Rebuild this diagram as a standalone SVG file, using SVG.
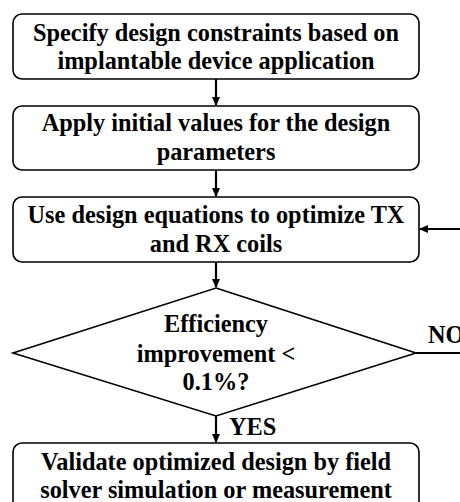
<svg xmlns="http://www.w3.org/2000/svg" width="460" height="502" viewBox="0 0 460 502">
<style>
.box{fill:#fff;stroke:#000;stroke-width:1.6}
.c{fill:none;stroke:#000;stroke-width:2.2}
</style>
<defs>
<marker id="ah" markerWidth="10" markerHeight="10" refX="8" refY="5" orient="auto" markerUnits="userSpaceOnUse">
<path d="M0,1 L9,5 L0,9 Z" fill="#000"/>
</marker>
</defs>
<rect width="460" height="502" fill="#fff"/>
<g id="connectors">
<line class="c" x1="216" y1="79" x2="216" y2="105" marker-end="url(#ah)"/>
<line class="c" x1="216" y1="170" x2="216" y2="196" marker-end="url(#ah)"/>
<line class="c" x1="216" y1="262" x2="216" y2="287" marker-end="url(#ah)"/>
<line class="c" x1="216" y1="416" x2="216" y2="442" marker-end="url(#ah)"/>
<polyline class="c" points="416,353 462,353"/>
<line class="c" x1="462" y1="229" x2="420" y2="229" marker-end="url(#ah)"/>
</g>
<g id="n1">
<rect class="box" x="13" y="14" width="406" height="65" rx="9"/>
<text x="216" y="41" font-family="'Liberation Serif', serif" font-weight="bold" font-size="24.3" text-anchor="middle">Specify design constraints based on</text>
<text x="216" y="69" font-family="'Liberation Serif', serif" font-weight="bold" font-size="24.3" text-anchor="middle">implantable device application</text>
</g>
<g id="n2">
<rect class="box" x="13" y="106" width="406" height="64" rx="9"/>
<text x="216" y="131" font-family="'Liberation Serif', serif" font-weight="bold" font-size="24.3" text-anchor="middle">Apply initial values for the design</text>
<text x="216" y="160" font-family="'Liberation Serif', serif" font-weight="bold" font-size="24.3" text-anchor="middle">parameters</text>
</g>
<g id="n3">
<rect class="box" x="13" y="197" width="406" height="65" rx="9"/>
<text x="216" y="223" font-family="'Liberation Serif', serif" font-weight="bold" font-size="24.3" text-anchor="middle">Use design equations to optimize TX</text>
<text x="216" y="252" font-family="'Liberation Serif', serif" font-weight="bold" font-size="24.3" text-anchor="middle">and RX coils</text>
</g>
<g id="n4">
<polygon class="box" points="216,288 416,353 216,416 13,353"/>
<text x="216" y="332" font-family="'Liberation Serif', serif" font-weight="bold" font-size="24.3" text-anchor="middle">Efficiency</text>
<text x="216" y="362" font-family="'Liberation Serif', serif" font-weight="bold" font-size="24.3" text-anchor="middle">improvement &lt;</text>
<text x="216" y="390" font-family="'Liberation Serif', serif" font-weight="bold" font-size="24.3" text-anchor="middle">0.1%?</text>
</g>
<g id="n5">
<rect class="box" x="13" y="443" width="406" height="70" rx="9"/>
<text x="216" y="470" font-family="'Liberation Serif', serif" font-weight="bold" font-size="24.3" text-anchor="middle">Validate optimized design by field</text>
<text x="216" y="498" font-family="'Liberation Serif', serif" font-weight="bold" font-size="24.3" text-anchor="middle">solver simulation or measurement</text>
</g>
<g id="labels">
<text x="229" y="435" font-family="'Liberation Serif', serif" font-weight="bold" font-size="24.3">YES</text>
<text x="428" y="343" font-family="'Liberation Serif', serif" font-weight="bold" font-size="24.3">NO</text>
</g>
</svg>
